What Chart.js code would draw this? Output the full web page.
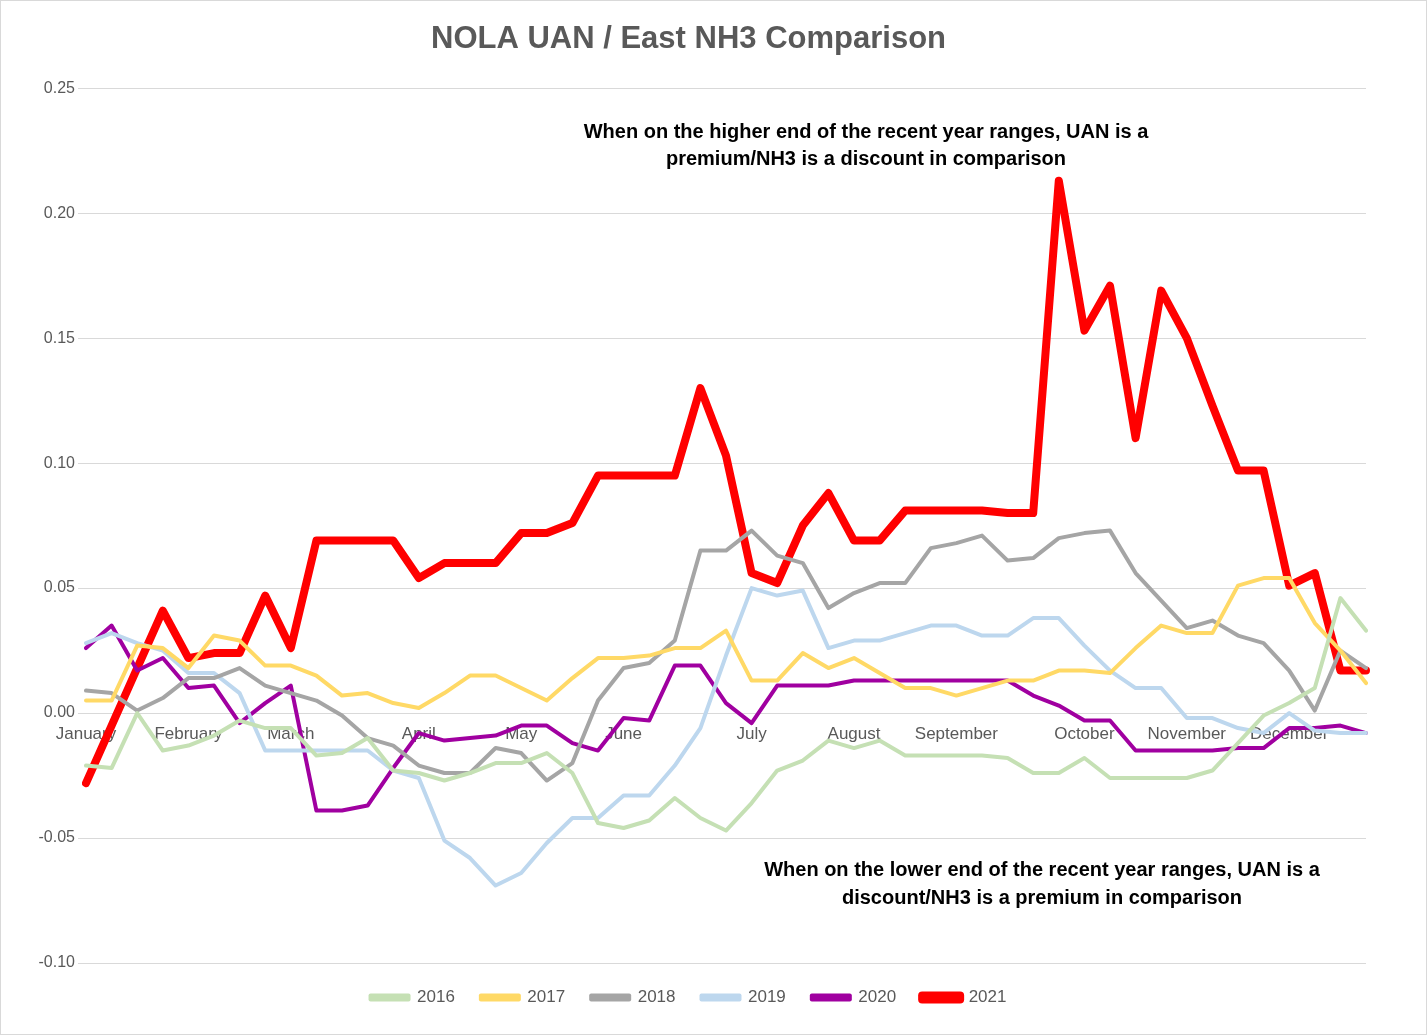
<!DOCTYPE html>
<html>
<head>
	<meta charset="UTF-8">
	<title>NOLA UAN / East NH3 Comparison</title>
	<script src="https://cdn.jsdelivr.net/npm/chart.js@4/dist/chart.umd.min.js"></script>
	<style>
		body { margin: 0; background: #fff; }
		#wrap { width: 1425px; height: 1033px; border: 1px solid #d9d9d9; }
	</style>
</head>
<body>
<div id="wrap"><canvas id="chart"></canvas></div>
<script>
	var monthLabels = {0:'January',4:'February',8:'March',13:'April',17:'May',21:'June',26:'July',30:'August',34:'September',39:'October',43:'November',47:'December'};
	var labels = [];
	for (var i = 0; i < 51; i++) labels.push(monthLabels[i] || '');

	var y2016 = [-0.021,-0.022,0.000,-0.015,-0.013,-0.009,-0.003,-0.006,-0.006,-0.017,-0.016,-0.010,-0.023,-0.024,-0.027,-0.024,-0.020,-0.020,-0.016,-0.024,-0.044,-0.046,-0.043,-0.034,-0.042,-0.047,-0.036,-0.023,-0.019,-0.011,-0.014,-0.011,-0.017,-0.017,-0.017,-0.017,-0.018,-0.024,-0.024,-0.018,-0.026,-0.026,-0.026,-0.026,-0.023,-0.012,-0.001,0.004,0.010,0.046,0.033];
	var y2017 = [0.005,0.005,0.027,0.026,0.018,0.031,0.029,0.019,0.019,0.015,0.007,0.008,0.004,0.002,0.008,0.015,0.015,0.010,0.005,0.014,0.022,0.022,0.023,0.026,0.026,0.033,0.013,0.013,0.024,0.018,0.022,0.016,0.010,0.010,0.007,0.010,0.013,0.013,0.017,0.017,0.016,0.026,0.035,0.032,0.032,0.051,0.054,0.054,0.036,0.025,0.012];
	var y2018 = [0.009,0.008,0.001,0.006,0.014,0.014,0.018,0.011,0.008,0.005,-0.001,-0.010,-0.013,-0.021,-0.024,-0.024,-0.014,-0.016,-0.027,-0.020,0.005,0.018,0.020,0.029,0.065,0.065,0.073,0.063,0.060,0.042,0.048,0.052,0.052,0.066,0.068,0.071,0.061,0.062,0.070,0.072,0.073,0.056,0.045,0.034,0.037,0.031,0.028,0.017,0.001,0.025,0.018];
	var y2019 = [0.028,0.032,0.028,0.025,0.016,0.016,0.008,-0.015,-0.015,-0.015,-0.015,-0.015,-0.023,-0.026,-0.051,-0.058,-0.069,-0.064,-0.052,-0.042,-0.042,-0.033,-0.033,-0.021,-0.006,0.023,0.050,0.047,0.049,0.026,0.029,0.029,0.032,0.035,0.035,0.031,0.031,0.038,0.038,0.027,0.017,0.010,0.010,-0.002,-0.002,-0.006,-0.008,0.000,-0.007,-0.008,-0.008];
	var y2020 = [0.026,0.035,0.017,0.022,0.010,0.011,-0.004,0.004,0.011,-0.039,-0.039,-0.037,-0.022,-0.008,-0.011,-0.010,-0.009,-0.005,-0.005,-0.012,-0.015,-0.002,-0.003,0.019,0.019,0.004,-0.004,0.011,0.011,0.011,0.013,0.013,0.013,0.013,0.013,0.013,0.013,0.007,0.003,-0.003,-0.003,-0.015,-0.015,-0.015,-0.015,-0.014,-0.014,-0.006,-0.006,-0.005,-0.008];
	var y2021 = [-0.028,-0.005,0.018,0.041,0.022,0.024,0.024,0.047,0.026,0.069,0.069,0.069,0.069,0.054,0.060,0.060,0.060,0.072,0.072,0.076,0.095,0.095,0.095,0.095,0.130,0.103,0.056,0.052,0.075,0.088,0.069,0.069,0.081,0.081,0.081,0.081,0.080,0.080,0.213,0.153,0.171,0.110,0.169,0.150,0.123,0.097,0.097,0.051,0.056,0.017,0.017];

	function ds(label, data, color, width) {
		return { label: label, data: data, borderColor: color, backgroundColor: color, borderWidth: width,
			pointRadius: 0, tension: 0, fill: false, borderJoinStyle: 'round', borderCapStyle: 'round' };
	}

	var notes = {
		id: 'notes',
		afterDraw: function(chart) {
			var c = chart.ctx;
			c.save();
			c.fillStyle = '#000';
			c.font = 'bold 20px "Liberation Sans", Arial, sans-serif';
			c.textAlign = 'center';
			c.fillText('When on the higher end of the recent year ranges, UAN is a', 865, 131);
			c.fillText('premium/NH3 is a discount in comparison', 865, 158);
			c.fillText('When on the lower end of the recent year ranges, UAN is a', 1041, 869);
			c.fillText('discount/NH3 is a premium in comparison', 1041, 897);
			c.restore();
		}
	};

	new Chart(document.getElementById('chart'), {
		type: 'line',
		data: {
			labels: labels,
			datasets: [
				ds('2016', y2016, '#c5e0b4', 4),
				ds('2017', y2017, '#ffd966', 4),
				ds('2018', y2018, '#a5a5a5', 4),
				ds('2019', y2019, '#bdd7ee', 4),
				ds('2020', y2020, '#a000a0', 4),
				ds('2021', y2021, '#ff0000', 8)
			]
		},
		options: {
			responsive: true,
			maintainAspectRatio: false,
			animation: false,
			layout: { padding: { left: 10, right: 60, top: 10, bottom: 18 } },
			plugins: {
				title: { display: true, text: 'NOLA UAN / East NH3 Comparison', color: '#595959',
					font: { size: 31, weight: 'bold', family: '"Liberation Sans", Arial, sans-serif' }, padding: { top: 10, bottom: 30 } },
				legend: { position: 'bottom',
					labels: { color: '#595959', font: { size: 17 }, boxWidth: 38, boxHeight: 4, padding: 26 } }
			},
			scales: {
				x: {
					position: { y: 0 },
					grid: { display: false },
					border: { color: '#d9d9d9' },
					ticks: { autoSkip: false, maxRotation: 0, color: '#595959', font: { size: 17 } }
				},
				y: {
					min: -0.10, max: 0.25,
					afterFit: function(s) { s.width = 75; },
					ticks: { stepSize: 0.05, color: '#595959', font: { size: 16 },
						callback: function(v) { return Math.abs(v) < 1e-9 ? '0.00' : v.toFixed(2); } },
					grid: { color: '#d9d9d9' },
					border: { display: false }
				}
			}
		},
		plugins: [notes]
	});
</script>
</body>
</html>
